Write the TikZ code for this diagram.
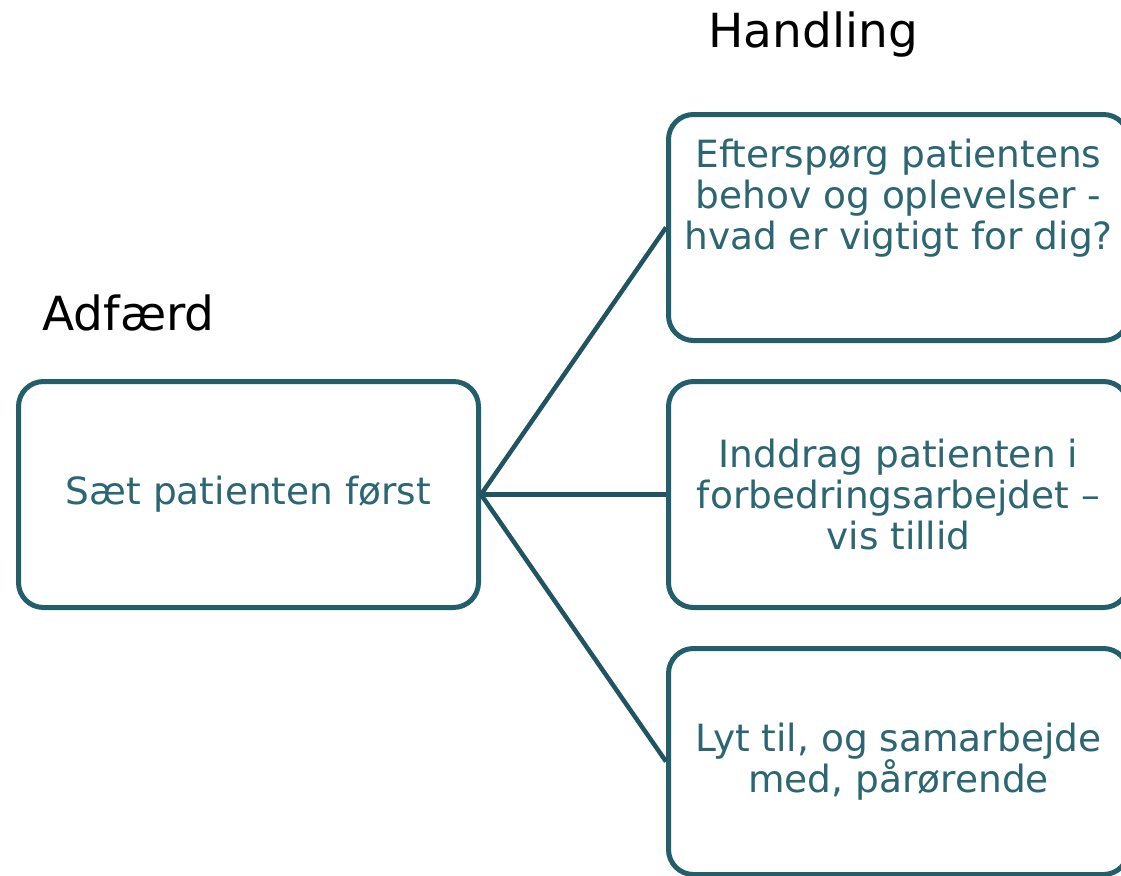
\documentclass[tikz,border=0pt]{standalone}
\usepackage{fontspec}
\setmainfont{DejaVu Sans}
\usetikzlibrary{positioning}
\definecolor{boxline}{HTML}{235F6B}
\definecolor{boxtext}{HTML}{2B6672}
\definecolor{linkline}{HTML}{1F5460}

\begin{document}
\begin{tikzpicture}[x=1pt,y=-1pt,
    block_box/.style ={rectangle, draw=boxline, line width=5pt, rounded corners=25pt,
      fill=white, minimum width=460pt, minimum height=226pt, inner sep=0pt,
      text=boxtext, font=\fontsize{37.5}{41}\selectfont, align=center},
    block_text/.style ={text=boxtext, font=\fontsize{37.5}{41}\selectfont, align=center},
    block_title/.style ={text=black, font=\fontsize{47}{56}\selectfont, anchor=base west},
      line/.style ={draw=linkline, line width=4.5pt}]
    \useasboundingbox (0,0) rectangle (1121,875);
    \clip (0,0) rectangle (1121,875);
    % behaviour box on the left
    \node [block_box] (adfaerd) at (248.5,494.5) {S\ae t patienten f\o rst};
    % action boxes on the right
    \node [block_box, right=185pt of adfaerd] (inddrag) {Inddrag patienten i\\
      forbedringsarbejdet --\\
      vis tillid};
    \node [block_box, above=36pt of inddrag] (efterspoerg) {};
    \node [block_text] (efterspoerg_text) at ([yshift=29.5pt]efterspoerg.center) {Efterspørg patientens\\
      behov og oplevelser -\\
      hvad er vigtigt for dig?};
    \node [block_box, below=36pt of inddrag] (lyt) {Lyt til, og samarbejde\\
      med, pårørende};
    % headings
    \node [block_title] (adfaerd_title) at (39,330) {Adfærd};
    \node [block_title] (handling_title) at (705,48) {Handling};
    % connecting nodes with paths
    \begin{scope}[every path/.style=line]
      \path (adfaerd.east) -- (efterspoerg.west);
      \path (adfaerd.east) -- (inddrag.west);
      \path (adfaerd.east) -- (lyt.west);
    \end{scope}
\end{tikzpicture}
\end{document}
